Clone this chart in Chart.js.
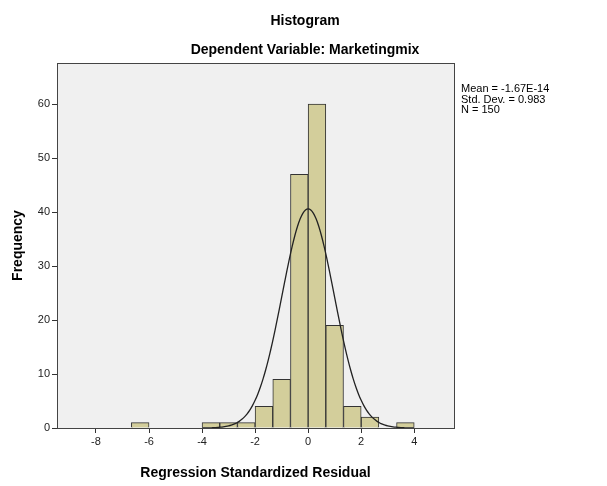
<!DOCTYPE html>
<html><head><meta charset="utf-8">
<script src="https://cdn.jsdelivr.net/npm/chart.js@4"></script>
<style>html,body{margin:0;padding:0;background:#fff}#w{width:607px;height:486px}</style>
</head><body><div id="w"><canvas id="c"></canvas></div>
<script>
const binCenters = [-6.333,-5.667,-5,-4.333,-3.667,-3,-2.333,-1.667,-1,-0.333,0.333,1,1.667,2.333,3,3.667];
const binCounts  = [1,0,0,0,1,1,1,4,9,47,60,19,4,2,0,1];
const xTicks = [-8,-6,-4,-2,0,2,4];
const yTicks = [0,10,20,30,40,50,60];
const mean = -1.67e-14, sd = 0.983, n = 150, binW = 2/3;
const statsLines = ["Mean = -1.67E-14","Std. Dev. = 0.983","N = 150"];

const curve = [];
for (let i = -40; i <= 40; i++) {
  const x = i * 0.1;
  const z = (x - mean) / sd;
  curve.push({x, y: n * binW * Math.exp(-0.5*z*z) / (sd*Math.sqrt(2*Math.PI))});
}
const F = "'Liberation Sans', Arial, sans-serif";
const deco = {
  id:'deco',
  beforeDraw(ch){
    const {ctx, chartArea:a} = ch;
    ctx.save(); ctx.fillStyle='#f0f0f0'; ctx.fillRect(a.left,a.top,a.right-a.left,a.bottom-a.top); ctx.restore();
  },
  afterDraw(ch){
    const {ctx, chartArea:a} = ch;
    ctx.save();
    ctx.strokeStyle='#444'; ctx.lineWidth=1;
    ctx.strokeRect(a.left+0.5,a.top+0.5,a.right-a.left,a.bottom-a.top);
    ctx.fillStyle='#000'; ctx.textAlign='center'; ctx.textBaseline='middle';
    ctx.font="bold 14px "+F;
    ctx.fillText("Histogram",305,21);
    ctx.fillText("Dependent Variable: Marketingmix",305,50);
    ctx.font="11px "+F; ctx.textAlign='left';
    statsLines.forEach((s,i)=>ctx.fillText(s,461,89+i*10.5));
    ctx.restore();
  }
};
new Chart(document.getElementById('c'),{
  type:'bar',
  data:{datasets:[
    {type:'line',data:curve,borderColor:'#222',borderWidth:1.3,pointRadius:0,fill:false,tension:0.3,order:0},
    {type:'bar',data:binCenters.map((x,i)=>({x,y:binCounts[i]})),backgroundColor:'#d3ce9b',borderColor:'#333',borderWidth:1,barPercentage:1,categoryPercentage:1,order:1}
  ]},
  options:{
    responsive:true,maintainAspectRatio:false,animation:false,
    layout:{padding:{left:0,right:153,top:63,bottom:0}},
    plugins:{legend:{display:false},tooltip:{enabled:false}},
    scales:{
      x:{type:'linear',min:-9.47,max:5.5,offset:false,
        afterBuildTicks(s){s.ticks=xTicks.map(v=>({value:v}));},
        afterFit(s){s.height=58;},
        grid:{offset:false,drawOnChartArea:false,drawTicks:true,tickLength:5,color:'#333'},
        border:{color:'#333'},
        ticks:{color:'#222',font:{family:F,size:11},padding:2,maxRotation:0},
        title:{display:true,text:'Regression Standardized Residual',color:'#000',font:{family:F,size:14,weight:'bold'},padding:{top:8}}},
      y:{min:0,max:67.6,
        afterBuildTicks(s){s.ticks=yTicks.map(v=>({value:v}));},
        afterFit(s){s.width=57;},
        grid:{drawOnChartArea:false,drawTicks:true,tickLength:5,color:'#333'},
        border:{color:'#333'},
        ticks:{color:'#222',font:{family:F,size:11},padding:2},
        title:{display:true,text:'Frequency',color:'#000',font:{family:F,size:14,weight:'bold'},padding:{top:10,bottom:4}}}
    }
  },
  plugins:[deco]
});
</script></body></html>
